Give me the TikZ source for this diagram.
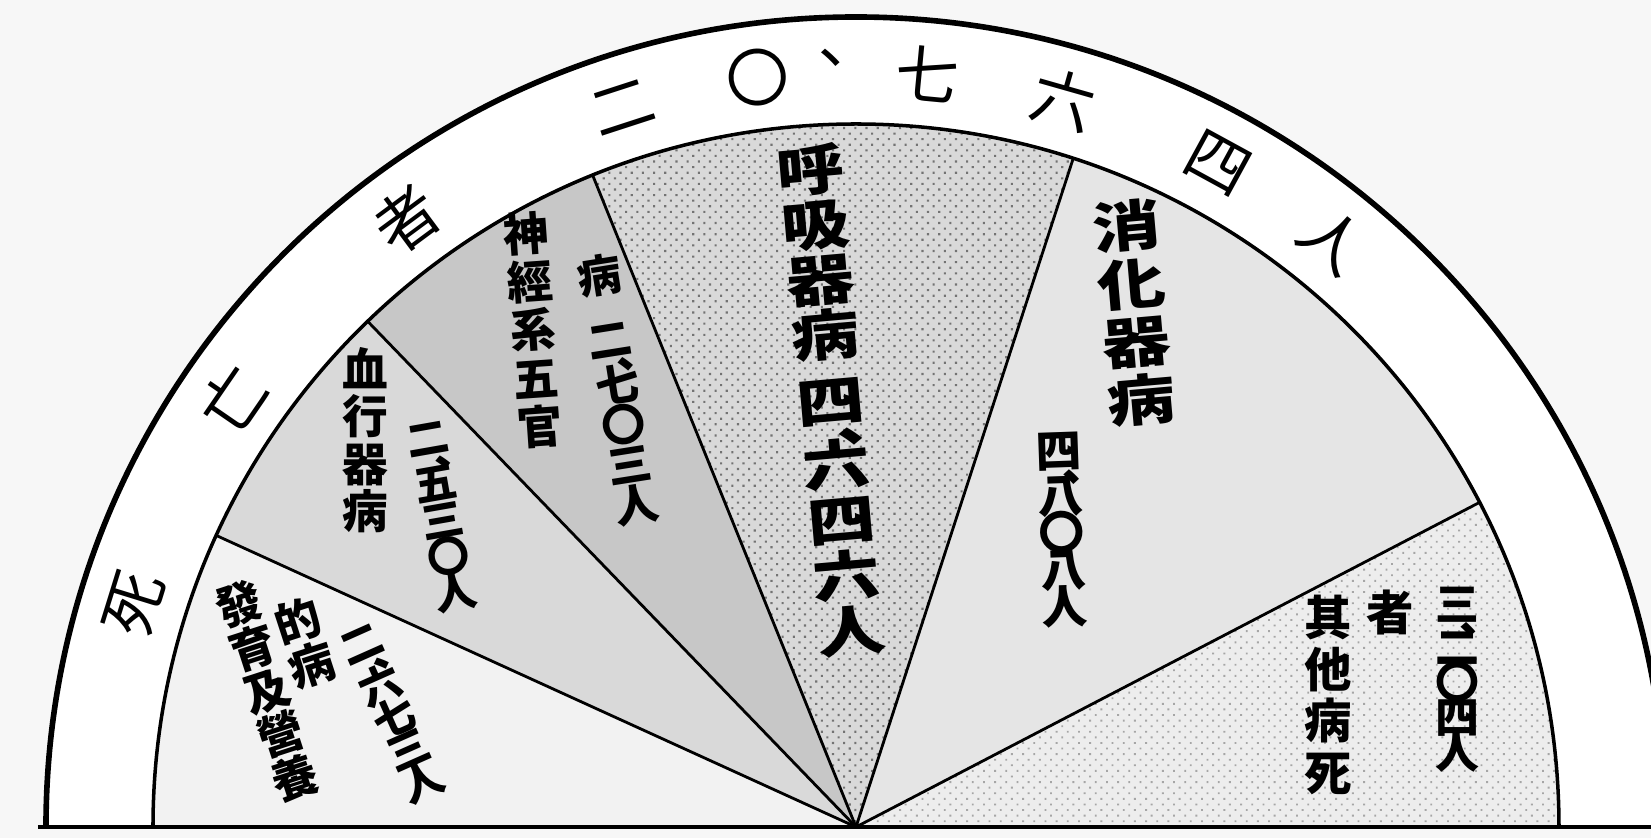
\documentclass[tikz,border=0pt]{standalone}
\usepackage{fontspec}
\usetikzlibrary{patterns.meta}
\newfontfamily\jp{Noto Sans CJK JP}
\newfontfamily\jpwide[FakeStretch=1.25]{Noto Sans CJK JP}
\definecolor{paper}{gray}{0.97}
\definecolor{secA}{gray}{0.95}
\definecolor{secB}{gray}{0.85}
\definecolor{secC}{gray}{0.78}
\definecolor{secD}{gray}{0.85}
\definecolor{secE}{gray}{0.90}
\definecolor{secF}{gray}{0.93}
\newcommand{\colfont}[2]{\jp\bfseries\fontsize{#1}{#2}\selectfont\lineskiplimit=-100pt}
\newcommand{\widefont}[2]{\jpwide\bfseries\fontsize{#1}{#2}\selectfont\lineskiplimit=-100pt}
\newcommand{\tenmark}{\makebox[1em][l]{\hspace{0.55em}\raisebox{0.2em}{、}}}

\begin{document}
\begin{tikzpicture}[x=0.02cm, y=0.02cm]
      \tikzstyle{ringchar}=[font=\jp\fontsize{36}{36}\selectfont, inner sep=0pt]
      \tikzstyle{col}=[align=center, inner sep=0pt]
      \tikzstyle{divider}=[line width=1.6pt]
      \tikzstyle{respFill}=[fill=secD, postaction={pattern={Dots[distance=4.5pt, radius=0.85pt, angle=45]}, pattern color=black!55}]
      \tikzstyle{otherFill}=[fill=secF, postaction={pattern={Dots[distance=4.5pt, radius=0.75pt, angle=45]}, pattern color=black!35}]

      \useasboundingbox[fill=paper] (-856,-11) rectangle (795,827);
      \clip (-856,-11) rectangle (795,827);

      \coordinate (o) at (0,0);
      \coordinate (b1) at (155.5:703);
      \coordinate (b2) at (134:703);
      \coordinate (b3) at (112:703);
      \coordinate (b4) at (72:703);
      \coordinate (b5) at (27.5:703);

      % ring and sectors
      \fill[white] (o) -- (180:810) arc[start angle=180, end angle=0, radius=810] -- cycle;
      \fill[secA] (o) -- (180:703) arc[start angle=180, end angle=155.5, radius=703] -- cycle;
      \fill[secB] (o) -- (b1) arc[start angle=155.5, end angle=134, radius=703] -- cycle;
      \fill[secC] (o) -- (b2) arc[start angle=134, end angle=112, radius=703] -- cycle;
      \path[respFill] (o) -- (b3) arc[start angle=112, end angle=72, radius=703] -- cycle;
      \fill[secE] (o) -- (b4) arc[start angle=72, end angle=27.5, radius=703] -- cycle;
      \path[otherFill] (o) -- (b5) arc[start angle=27.5, end angle=0, radius=703] -- cycle;

      \draw[divider] (o) -- (b1);
      \draw[divider] (o) -- (b2);
      \draw[divider] (o) -- (b3);
      \draw[divider] (o) -- (b4);
      \draw[divider] (o) -- (b5);

      \draw[line width=2pt] (180:703) arc[start angle=180, end angle=0, radius=703];
      \draw[line width=3.2pt] (180:810) arc[start angle=180, end angle=0, radius=810];
      \coordinate (baseL) at (-818,0);
      \coordinate (baseR) at (795,0);
      \draw[line width=2.8pt] (baseL) -- (baseR);

      % outer ring text
      \node[ringchar, rotate=72.8] (r1) at (162.8:756) {死};
      \node[ringchar, rotate=55.5] (r2) at (145.5:756) {亡};
      \node[ringchar, rotate=36.5] (r3) at (126.5:756) {者};
      \node[ringchar, rotate=18] (r4) at (108:756) {二};
      \node[ringchar, rotate=7.5] (r5) at (97.5:756) {〇};
      \node[ringchar, rotate=1.8] (r6) at (-6,770) {、};
      \node[ringchar, rotate=-5.4] (r7) at (84.6:756) {七};
      \node[ringchar, rotate=-15.9] (r8) at (74.1:756) {六};
      \node[ringchar, rotate=-28.6] (r9) at (61.4:756) {四};
      \node[ringchar, rotate=-39.1] (r10) at (50.9:756) {人};

      % sector labels
      \node[col, font=\colfont{26}{26}, rotate=18] (devA) at (-589,136) {發\\育\\及\\營\\養};
      \node[col, font=\colfont{26}{26}, rotate=18] (devB) at (-551,184) {的\\病};
      \node[col, font=\colfont{24}{20}, rotate=24] (devN) at (-463,112) {二\\[-7pt]\tenmark\\[-7pt]六\\七\\三\\人};

      \node[col, font=\colfont{26}{27}] (circA) at (-491,387) {血\\行\\器\\病};
      \node[col, font=\colfont{24}{21}, rotate=10] (circN) at (-414,309) {二\\[-8pt]\tenmark\\[-8pt]五\\三\\〇\\人};

      \node[col, font=\colfont{26}{27.5}, rotate=4] (nervA) at (-323,497) {神\\經\\系\\五\\官};
      \node[col, font=\colfont{25}{23}, rotate=9] (nervN) at (-238,437) {病\\[14pt]二\\[-10pt]\tenmark\\[-10pt]七\\〇\\三\\人};

      \node[col, font=\widefont{31}{31.5}, rotate=5] (respA) at (-25,427) {呼\\吸\\器\\病\\[6pt]四\\[-13pt]\tenmark\\[-13pt]六\\四\\六\\人};

      \node[col, font=\widefont{31}{33}, rotate=5] (digA) at (278,514) {消\\化\\器\\病};
      \node[col, font=\colfont{26}{21}, rotate=2] (digN) at (206,297) {四\\[-8pt]\tenmark\\[-8pt]八\\〇\\八\\人};

      \node[col, font=\colfont{27}{29.5}] (othA) at (472,132) {其\\他\\病\\死};
      \node[col, font=\colfont{27}{27}] (othB) at (534,214) {者};
      \node[col, font=\colfont{25}{20}] (othN) at (601,147) {三\\[-8pt]\tenmark\\[-8pt]二\\〇\\四\\人};
\end{tikzpicture}
\end{document}
